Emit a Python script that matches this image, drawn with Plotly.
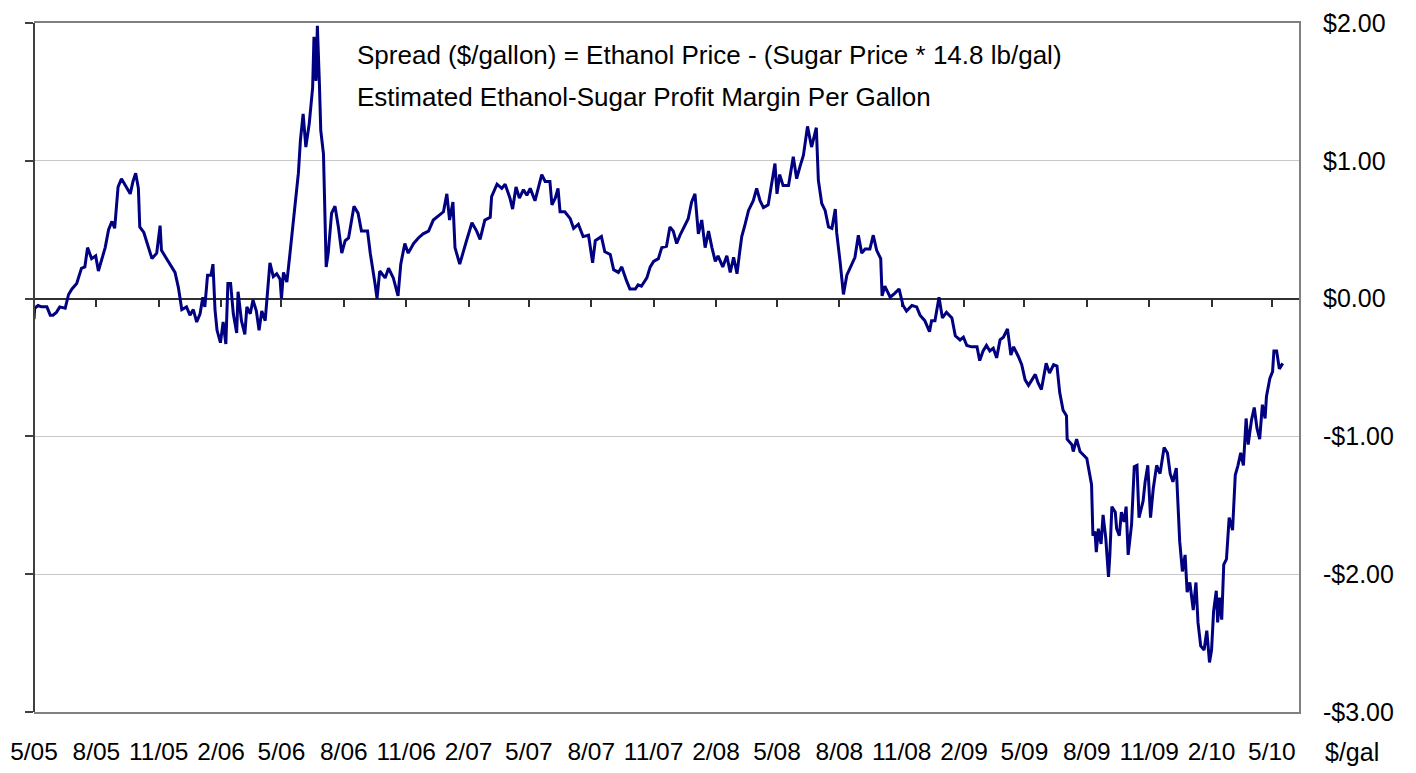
import pandas as pd
import plotly.graph_objects as go

START = "2005-05-01"
END = "2010-06-10"

# days after START
DAYS = [0, 1, 6, 11, 19, 24, 28, 33, 38, 46, 51, 56, 63, 70, 75, 79, 85, 91, 95, 100,
        105, 110, 115, 119, 124, 129, 134, 142, 146, 150, 154, 156, 162, 169, 174, 181, 186, 188, 193, 201,
        208, 213, 218, 225, 230, 235, 240, 245, 249, 252, 256, 261, 264, 267, 270, 275, 279, 283, 286, 290,
        294, 299, 301, 306, 311, 314, 319, 323, 328, 332, 336, 341, 346, 348, 353, 358, 363, 365, 368, 373,
        377, 385, 390, 393, 397, 401, 406, 411, 413, 416, 418, 421, 423, 427, 431, 434, 439, 444, 449, 454,
        459, 464, 472, 478, 483, 492, 496, 503, 506, 510, 518, 523, 530, 537, 541, 547, 552, 560, 567, 574,
        582, 589, 596, 604, 609, 613, 618, 621, 628, 633, 638, 646, 653, 658, 665, 673, 675, 683, 690, 695,
        702, 706, 711, 716, 722, 727, 732, 739, 744, 749, 754, 761, 764, 769, 773, 776, 783, 791, 796, 803,
        810, 818, 824, 828, 837, 842, 850, 855, 862, 867, 874, 879, 887, 891, 896, 904, 909, 914, 921, 926,
        933, 938, 943, 948, 953, 960, 965, 970, 975, 980, 985, 990, 995, 1000, 1005, 1009, 1016, 1022, 1027, 1032,
        1037, 1041, 1044, 1049, 1054, 1061, 1066, 1071, 1076, 1083, 1087, 1093, 1096, 1100, 1105, 1113, 1120, 1125, 1130, 1135,
        1141, 1147, 1154, 1157, 1162, 1167, 1172, 1177, 1182, 1184, 1189, 1194, 1199, 1206, 1211, 1216, 1221, 1226, 1233, 1238,
        1243, 1249, 1251, 1255, 1263, 1270, 1276, 1282, 1287, 1295, 1302, 1307, 1314, 1321, 1324, 1329, 1335, 1340, 1346, 1354,
        1359, 1366, 1371, 1376, 1383, 1391, 1395, 1400, 1405, 1410, 1415, 1420, 1425, 1430, 1436, 1441, 1445, 1452, 1457, 1462,
        1467, 1472, 1477, 1481, 1486, 1493, 1498, 1504, 1509, 1513, 1518, 1523, 1524, 1531, 1533, 1538, 1543, 1553, 1560, 1562,
        1565, 1567, 1570, 1574, 1577, 1581, 1585, 1587, 1590, 1595, 1597, 1601, 1604, 1608, 1611, 1614, 1619, 1623, 1627, 1630,
        1636, 1639, 1643, 1647, 1651, 1656, 1661, 1667, 1672, 1676, 1680, 1685, 1688, 1690, 1694, 1698, 1701, 1705, 1710, 1714,
        1717, 1721, 1726, 1730, 1734, 1737, 1740, 1744, 1746, 1749, 1752, 1755, 1759, 1763, 1768, 1772, 1776, 1780, 1784, 1788,
        1791, 1796, 1800, 1804, 1808, 1812, 1816, 1818, 1823, 1827, 1829, 1833, 1837, 1842]

# spread in $/gallon
SPREAD = [-0.15, -0.07, -0.05, -0.06, -0.06, -0.12, -0.12, -0.10, -0.06, -0.07, 0.03, 0.07, 0.11, 0.22, 0.23, 0.37, 0.29, 0.31, 0.20, 0.28,
          0.37, 0.50, 0.56, 0.51, 0.81, 0.87, 0.83, 0.76, 0.85, 0.91, 0.80, 0.52, 0.48, 0.37, 0.29, 0.33, 0.53, 0.35, 0.31, 0.24,
          0.19, 0.08, -0.08, -0.06, -0.12, -0.08, -0.17, -0.11, 0.01, -0.06, 0.17, 0.17, 0.25, -0.08, -0.23, -0.32, -0.17, -0.33, 0.11, 0.11,
          -0.11, -0.25, 0.05, -0.16, -0.26, -0.06, -0.11, -0.01, -0.09, -0.23, -0.09, -0.16, 0.17, 0.26, 0.16, 0.18, 0.14, 0.00, 0.19, 0.12,
          0.30, 0.71, 0.91, 1.15, 1.34, 1.10, 1.27, 1.53, 1.90, 1.58, 1.98, 1.56, 1.22, 1.05, 0.23, 0.33, 0.62, 0.67, 0.52, 0.33,
          0.42, 0.44, 0.67, 0.62, 0.49, 0.49, 0.33, 0.11, 0.00, 0.20, 0.15, 0.22, 0.15, 0.02, 0.25, 0.40, 0.33, 0.40, 0.44, 0.47,
          0.49, 0.57, 0.60, 0.63, 0.76, 0.57, 0.70, 0.37, 0.25, 0.34, 0.42, 0.55, 0.49, 0.43, 0.57, 0.59, 0.74, 0.83, 0.80, 0.83,
          0.73, 0.65, 0.81, 0.73, 0.79, 0.75, 0.80, 0.71, 0.81, 0.90, 0.85, 0.85, 0.68, 0.73, 0.80, 0.63, 0.63, 0.58, 0.51, 0.54,
          0.45, 0.46, 0.26, 0.42, 0.45, 0.34, 0.32, 0.21, 0.19, 0.23, 0.13, 0.07, 0.07, 0.10, 0.09, 0.15, 0.23, 0.27, 0.29, 0.37,
          0.38, 0.52, 0.49, 0.40, 0.46, 0.53, 0.58, 0.70, 0.76, 0.47, 0.57, 0.37, 0.49, 0.37, 0.27, 0.31, 0.23, 0.31, 0.19, 0.30,
          0.18, 0.34, 0.45, 0.54, 0.64, 0.71, 0.80, 0.71, 0.66, 0.68, 0.80, 0.98, 0.76, 0.90, 0.82, 0.82, 1.03, 0.87, 0.96, 1.04,
          1.25, 1.10, 1.24, 0.86, 0.69, 0.64, 0.52, 0.51, 0.65, 0.48, 0.27, 0.03, 0.17, 0.24, 0.30, 0.46, 0.33, 0.36, 0.36, 0.46,
          0.35, 0.29, 0.02, 0.09, 0.01, 0.04, 0.07, -0.05, -0.09, -0.05, -0.06, -0.12, -0.16, -0.24, -0.16, -0.16, 0.01, -0.14, -0.10, -0.14,
          -0.27, -0.30, -0.28, -0.34, -0.35, -0.35, -0.45, -0.38, -0.34, -0.38, -0.36, -0.43, -0.30, -0.28, -0.22, -0.41, -0.35, -0.42, -0.48, -0.59,
          -0.63, -0.59, -0.55, -0.61, -0.66, -0.47, -0.54, -0.48, -0.49, -0.68, -0.81, -0.85, -1.02, -1.06, -1.11, -1.02, -1.11, -1.16, -1.35, -1.72,
          -1.69, -1.84, -1.67, -1.78, -1.57, -1.74, -2.02, -1.86, -1.51, -1.55, -1.67, -1.72, -1.55, -1.62, -1.51, -1.86, -1.64, -1.22, -1.21, -1.59,
          -1.47, -1.33, -1.21, -1.59, -1.38, -1.21, -1.27, -1.08, -1.12, -1.27, -1.33, -1.23, -1.55, -1.76, -1.98, -1.86, -2.13, -2.06, -2.26, -2.06,
          -2.35, -2.52, -2.55, -2.41, -2.64, -2.55, -2.27, -2.12, -2.35, -2.17, -2.33, -1.93, -1.89, -1.59, -1.68, -1.28, -1.21, -1.12, -1.21, -0.87,
          -1.06, -0.88, -0.79, -0.94, -1.02, -0.77, -0.87, -0.71, -0.58, -0.53, -0.38, -0.38, -0.51, -0.47]

Y_TICKS = [2, 1, 0, -1, -2, -3]
Y_TICK_TEXT = ["$2.00", "$1.00", "$0.00", "-$1.00", "-$2.00", "-$3.00"]
TITLE_1 = "Spread ($/gallon) = Ethanol Price - (Sugar Price * 14.8 lb/gal)"
TITLE_2 = "Estimated Ethanol-Sugar Profit Margin Per Gallon"
UNIT = "$/gal"

FONT = "Liberation Sans, Arial, sans-serif"

dates = pd.Timestamp(START) + pd.to_timedelta(DAYS, unit="D")
x_range = [START, END]
y_range = [-3, 2]

fig = go.Figure()
# dummy on the main axes so that the frame/grid subplot exists
fig.add_trace(go.Scatter(x=[dates[0]], y=[None], xaxis="x", yaxis="y",
                         mode="lines", showlegend=False, hoverinfo="skip"))
fig.add_trace(go.Scatter(x=dates, y=SPREAD, xaxis="x2", yaxis="y2", mode="lines",
                         line=dict(color="#000080", width=3), showlegend=False))

fig.update_layout(
    width=1408, height=765,
    margin=dict(l=26, r=117, t=15, b=61),
    paper_bgcolor="white", plot_bgcolor="white",
    font=dict(family=FONT, size=24, color="black"),
    xaxis=dict(type="date", range=x_range, tick0=START, dtick="M3", tickformat="%-m/%y",
               tickangle=0, ticks="", showgrid=False, zeroline=False,
               showline=True, linecolor="#808080", linewidth=2, mirror=True,
               ticklabelstandoff=17, automargin=False,
               tickfont=dict(family=FONT, size=24.5, color="black")),
    yaxis=dict(range=y_range, side="right", tickvals=Y_TICKS, ticktext=Y_TICK_TEXT,
               ticks="", showgrid=True, gridcolor="#c8c8c8", gridwidth=1, zeroline=False,
               showline=True, linecolor="#808080", linewidth=2,
               ticklabelstandoff=17, automargin=False,
               tickfont=dict(family=FONT, size=25, color="black")),
    xaxis2=dict(type="date", range=x_range, overlaying="x", anchor="free", position=0.6,
                side="bottom", tick0=START, dtick="M3", ticks="outside", ticklen=7,
                tickwidth=1.5, tickcolor="#303030", showticklabels=False, showgrid=False,
                zeroline=False, showline=True, linecolor="#303030", linewidth=2,
                layer="below traces", automargin=False),
    yaxis2=dict(range=y_range, overlaying="y", anchor="free", position=0, side="left",
                tickvals=Y_TICKS, ticks="outside", ticklen=8, tickwidth=1.5, tickcolor="#404040",
                showticklabels=False, showgrid=False, zeroline=False,
                showline=True, linecolor="#404040", linewidth=2, automargin=False),
    annotations=[
        dict(text=TITLE_1, xref="paper", yref="paper", x=0.2538, y=0.9535,
             xanchor="left", yanchor="middle", showarrow=False,
             font=dict(family=FONT, size=26, color="black")),
        dict(text=TITLE_2, xref="paper", yref="paper", x=0.2538, y=0.8926,
             xanchor="left", yanchor="middle", showarrow=False,
             font=dict(family=FONT, size=26, color="black")),
        dict(text=UNIT, xref="paper", yref="paper", x=1.019, y=-0.058,
             xanchor="left", yanchor="middle", showarrow=False,
             font=dict(family=FONT, size=25, color="black")),
    ],
)

fig.write_html("out.html")
